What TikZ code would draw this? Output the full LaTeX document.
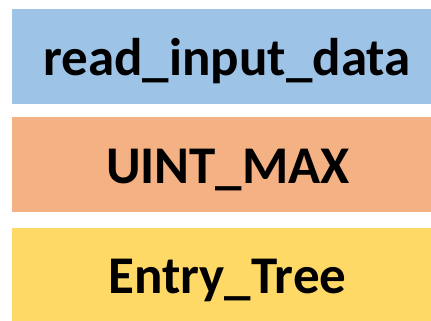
\documentclass[tikz,border=0pt]{standalone}
\usepackage{fontspec}
\setmainfont{Carlito}
\definecolor{boxblue}{HTML}{9DC3E6}
\definecolor{boxorange}{HTML}{F4B183}
\definecolor{boxyellow}{HTML}{FFD966}
\begin{document}
\begin{tikzpicture}[x=1pt,y=-1pt,
  band/.style={draw=none},
  label/.style={anchor=base,inner sep=0pt,font=\fontsize{53}{60}\selectfont\bfseries}]
\useasboundingbox (0,0) rectangle (431,321);
% three stacked colour bands
\fill[boxblue]   (12,9)   rectangle (431,104);
\fill[boxorange] (12,117) rectangle (431,212);
\fill[boxyellow] (12,228) rectangle (431,321);
% labels
\node[label] (a) at (227,76)  {read\_input\_data};
\node[label] (b) at (228,183) {UINT\_MAX};
\node[label] (c) at (227.5,293) {Entry\_Tree};
\end{tikzpicture}
\end{document}
